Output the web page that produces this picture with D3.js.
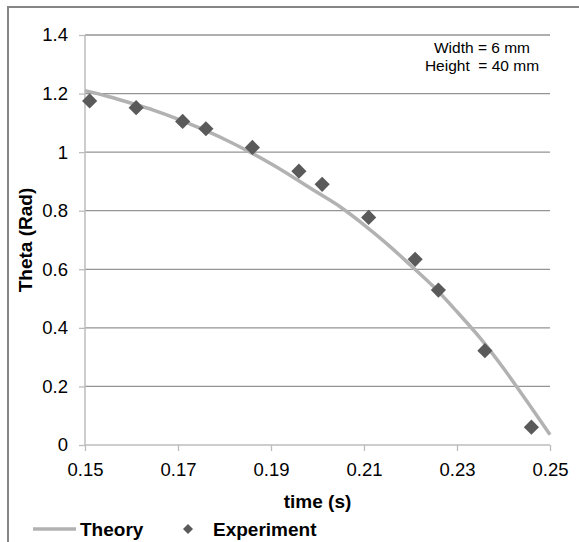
<!DOCTYPE html>
<html>
<head>
<meta charset="utf-8">
<script src="https://cdn.jsdelivr.net/npm/d3@7"></script>
<style>
  body { margin: 0; background: #fff; }
  text { font-family: "Liberation Sans", Arial, sans-serif; fill: #000; }
</style>
</head>
<body>
<svg id="chart"></svg>
<script>
var width = 579, height = 542

// experiment points
var expTime  = [0.151, 0.161, 0.171, 0.176, 0.186, 0.196, 0.201, 0.211, 0.221, 0.226, 0.236, 0.246]
var expTheta = [1.175, 1.152, 1.105, 1.080, 1.016, 0.935, 0.890, 0.777, 0.634, 0.529, 0.322, 0.061]

// theory curve
var theoryTime  = [0.150, 0.155, 0.160, 0.165, 0.170, 0.175, 0.180, 0.185, 0.190, 0.195, 0.200,
                   0.205, 0.210, 0.215, 0.220, 0.225, 0.230, 0.235, 0.240, 0.245, 0.250]
var theoryTheta = [1.210, 1.190, 1.167, 1.142, 1.113, 1.080, 1.044, 1.004, 0.960, 0.912, 0.862,
                   0.812, 0.752, 0.686, 0.614, 0.540, 0.455, 0.365, 0.262, 0.150, 0.035]

var xTicks = [0.15, 0.17, 0.19, 0.21, 0.23, 0.25]
var yTicks = [0, 0.2, 0.4, 0.6, 0.8, 1, 1.2, 1.4]
var notes = ["Width = 6 mm", "Height  = 40 mm"]
var legendLabels = ["Theory", "Experiment"]

var svg = d3.select("#chart")
    .attr("width", width)
    .attr("height", height)

// outer chart border (only top and left are in frame)
svg.append("path")
    .attr("d", "M8," + height + "V7H" + width)
    .attr("fill", "none")
    .attr("stroke", "#858585")
    .attr("stroke-width", 2)

var x = d3.scaleLinear().domain([0.15, 0.25]).range([85, 550])
var y = d3.scaleLinear().domain([0, 1.4]).range([445, 35])

// gridlines
svg.append("g")
    .selectAll("line")
    .data(yTicks.filter(function(d) { return d > 0 }))
    .enter().append("line")
    .attr("x1", x(0.15)).attr("x2", x(0.25))
    .attr("y1", function(d) { return y(d) })
    .attr("y2", function(d) { return y(d) })
    .attr("stroke", "#959595")
    .attr("stroke-width", 1.3)

var xAxis = svg.append("g")
    .attr("transform", "translate(0," + y(0) + ")")
    .call(d3.axisBottom(x).tickValues(xTicks).tickSize(6).tickPadding(12)
        .tickFormat(function(d) { return d3.format(".2f")(d) }))
var yAxis = svg.append("g")
    .attr("transform", "translate(" + x(0.15) + ",0)")
    .call(d3.axisLeft(y).tickValues(yTicks).tickSize(6).tickPadding(11)
        .tickFormat(function(d) { return String(d) }))

;[xAxis, yAxis].forEach(function(a) {
    a.select(".domain").attr("stroke", "#bcbcbc").attr("stroke-width", 1.5)
    a.selectAll(".tick line").attr("stroke", "#bcbcbc").attr("stroke-width", 1.3)
    a.selectAll(".tick text")
        .style("font-family", "'Liberation Sans', Arial, sans-serif")
        .style("font-size", "18.5px")
        .attr("fill", "#000")
})
xAxis.select(".domain").attr("d", "M" + x(0.15) + ",0H" + x(0.25))
yAxis.select(".domain").attr("d", "M0," + y(0) + "V" + y(1.4))

// theory line
var theory = theoryTime.map(function(t, i) { return [t, theoryTheta[i]] })
var line = d3.line()
    .x(function(d) { return x(d[0]) })
    .y(function(d) { return y(d[1]) })
    .curve(d3.curveMonotoneX)
svg.append("path")
    .datum(theory)
    .attr("d", line)
    .attr("fill", "none")
    .attr("stroke", "#b2b2b2")
    .attr("stroke-width", 3.5)

// experiment diamonds
var diamond = d3.symbol().type(d3.symbolSquare).size(115)
svg.append("g")
    .selectAll("path")
    .data(expTime.map(function(t, i) { return [t, expTheta[i]] }))
    .enter().append("path")
    .attr("d", diamond)
    .attr("transform", function(d) { return "translate(" + x(d[0]) + "," + y(d[1]) + ") rotate(45)" })
    .attr("fill", "#5a5a5a")

// note box text
svg.append("g")
    .selectAll("text")
    .data(notes)
    .enter().append("text")
    .attr("x", 482)
    .attr("y", function(d, i) { return 53 + i * 18 })
    .attr("text-anchor", "middle")
    .style("font-size", "15.5px")
    .style("white-space", "pre")
    .text(function(d) { return d })

// axis titles
svg.append("text")
    .attr("x", (x(0.15) + x(0.25)) / 2)
    .attr("y", 508)
    .attr("text-anchor", "middle")
    .style("font-size", "19px")
    .style("font-weight", "bold")
    .text("time (s)")
svg.append("text")
    .attr("transform", "translate(32," + ((y(0) + y(1.4)) / 2) + ") rotate(-90)")
    .attr("text-anchor", "middle")
    .style("font-size", "19px")
    .style("font-weight", "bold")
    .text("Theta (Rad)")

// legend
var legend = svg.append("g")
legend.append("line")
    .attr("x1", 33).attr("x2", 76)
    .attr("y1", 529).attr("y2", 529)
    .attr("stroke", "#b2b2b2")
    .attr("stroke-width", 3.5)
legend.append("path")
    .attr("d", d3.symbol().type(d3.symbolSquare).size(50))
    .attr("transform", "translate(188,529) rotate(45)")
    .attr("fill", "#5a5a5a")
legend.selectAll("text")
    .data(legendLabels)
    .enter().append("text")
    .attr("x", function(d, i) { return i === 0 ? 80 : 213 })
    .attr("y", 536)
    .style("font-size", "19px")
    .style("font-weight", "bold")
    .text(function(d) { return d })
</script>
</body>
</html>
